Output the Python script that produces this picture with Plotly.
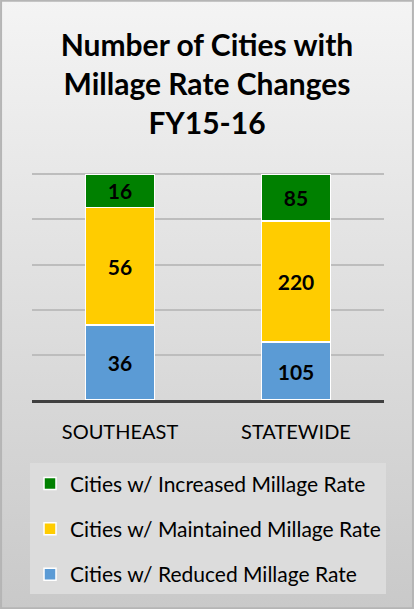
import plotly.graph_objects as go

regions = ["SOUTHEAST", "STATEWIDE"]
reduced = [36, 105]
maintained = [56, 220]
increased = [16, 85]

series = [
    ("Cities w/ Reduced Millage Rate", reduced, "#5b9bd5"),
    ("Cities w/ Maintained Millage Rate", maintained, "#ffcc00"),
    ("Cities w/ Increased Millage Rate", increased, "#008000"),
]

W, H = 414, 609
ML, MR, MT, MB = 32, 30, 172, 209
pw, ph = W - ML - MR, H - MT - MB

fig = go.Figure()
for i, (name, vals, color) in enumerate(series):
    fig.add_trace(go.Bar(
        x=regions, y=vals, name=name,
        marker=dict(color=color, line=dict(color="white", width=1.5)),
        text=vals, texttemplate="%{text}", textposition="inside",
        insidetextanchor="middle",
        textfont=dict(family="Lato", size=21, color="black", weight="bold"),
        legendgroup=str(i), legendrank=10 - i,
    ))

# soft grey gradient behind the whole chart
grad = ("data:image/svg+xml;utf8,<svg xmlns='http://www.w3.org/2000/svg' width='10' height='100' preserveAspectRatio='none'>"
        "<defs><linearGradient id='g' x1='0' y1='0' x2='0' y2='1'>"
        "<stop offset='0' stop-color='%23f4f4f4'/><stop offset='1' stop-color='%23c9c9c9'/>"
        "</linearGradient></defs><rect width='10' height='100' fill='url(%23g)'/></svg>")

fig.update_layout(
    width=W, height=H,
    margin=dict(l=ML, r=MR, t=MT, b=MB),
    barmode="stack", barnorm="percent", bargap=0.61,
    paper_bgcolor="#dedede", plot_bgcolor="rgba(0,0,0,0)",
    title=dict(text="Number of Cities with<br>Millage Rate Changes<br>FY15-16",
               x=0.5, xanchor="center", y=1 - 56 / H, yanchor="middle",
               font=dict(family="Lato", size=30, color="black", weight="bold")),
    xaxis=dict(showline=True, linecolor="#404040", linewidth=3,
               tickfont=dict(family="Lato", size=20, color="black"),
               ticklabelstandoff=12, fixedrange=True),
    yaxis=dict(range=[0, 101], tickvals=[20, 40, 60, 80, 100], showticklabels=False,
               gridcolor="#bdbdbd", gridwidth=1.5, zeroline=False, fixedrange=True),
    legend=dict(orientation="v", x=0.5, xanchor="center", y=-0.278, yanchor="top",
                traceorder="grouped", tracegroupgap=15,
                bgcolor="#dcdcdc",
                font=dict(family="Lato", size=21, color="black")),
    showlegend=True,
    images=[dict(source=grad, xref="paper", yref="paper",
                 x=-ML / pw, y=1 + MT / ph, sizex=W / pw, sizey=H / ph,
                 xanchor="left", yanchor="top", sizing="stretch", layer="below")],
    shapes=[dict(type="rect", xref="paper", yref="paper",
                 x0=-ML / pw + 0.003, x1=1 + MR / pw - 0.003,
                 y0=-MB / ph + 0.003, y1=1 + MT / ph - 0.003,
                 line=dict(color="#b5b5b5", width=2), layer="above")],
)

fig.write_html("out.html", config={"displayModeBar": False},
               post_script="document.body.style.margin='0';")
